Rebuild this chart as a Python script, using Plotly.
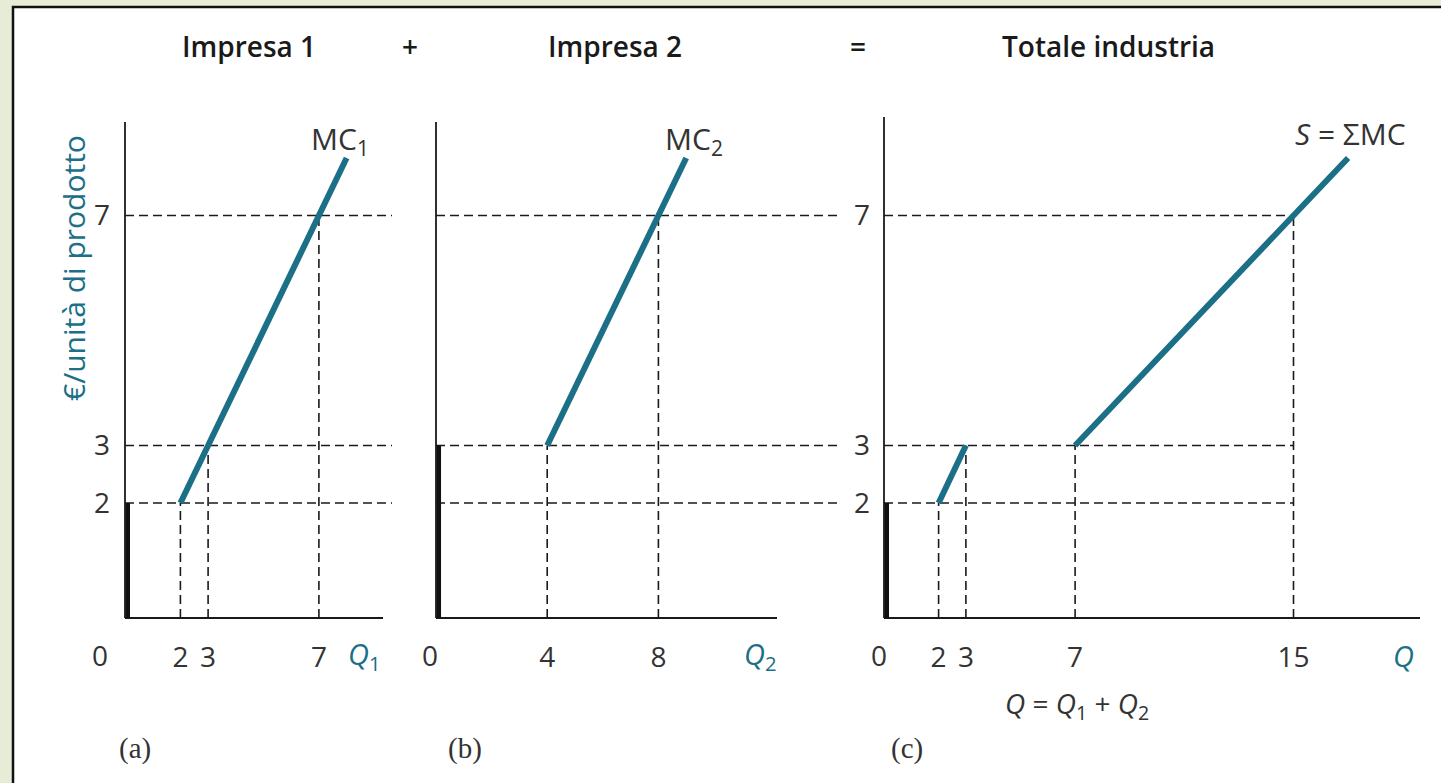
import plotly.graph_objects as go

# ---------------- data ----------------
price_ticks = [2, 3, 7]
firm1_q_ticks = [2, 3, 7]
firm2_q_ticks = [4, 8]
total_q_ticks = [2, 3, 7, 15]

mc1_q = [2, 8]
mc1_p = [2, 8]
mc2_q = [4, 9]
mc2_p = [3, 8]
s_low_q = [2, 3]
s_low_p = [2, 3]
s_high_q = [7, 17]
s_high_p = [3, 8]

shutdown_p1 = 2
shutdown_p2 = 3
shutdown_ind = 2

# quantities at each price level (guide lines)
p_guides = [2, 3, 7]
q1_guides = [2, 3, 7]
q2_guides = [None, 4, 8]
qt_guides = [(2, 2), (3, 3), (7, 3), (15, 7)]

# ---------------- layout helpers ----------------
W, H = 1441, 783
TEAL = "#1b6f86"
INK = "#1a1a1a"
TXT = "#333333"
FONT = "Open Sans"


def fx(px):
    return px / W


def fy(py):
    return 1 - py / H


# y mapping: value 0 -> 618 px, 57.5 px per unit
Y0, YU = 618, 57.5
Y_TOP, Y_BOT = 110, 636
yrange = [(Y0 - Y_BOT) / YU, (Y0 - Y_TOP) / YU]

panels = {
    "a": dict(x0=125, xu=27.7, dom=(118, 400)),
    "b": dict(x0=436, xu=27.8, dom=(430, 850)),
    "c": dict(x0=884, xu=27.3, dom=(878, 1425)),
}


def xr(p):
    d = panels[p]
    return [(d["dom"][0] - d["x0"]) / d["xu"], (d["dom"][1] - d["x0"]) / d["xu"]]


def xd(p, px):
    d = panels[p]
    return (px - d["x0"]) / d["xu"]


def yd(py):
    return (Y0 - py) / YU


fig = go.Figure()
axmap = {"a": ("x", "y"), "b": ("x2", "y2"), "c": ("x3", "y3")}

DASH = "9px,5px"


def line(p, xs, ys, color=INK, width=1.6, dash=None):
    xa, ya = axmap[p]
    fig.add_trace(go.Scatter(
        x=xs, y=ys, mode="lines", xaxis=xa, yaxis=ya,
        line=dict(color=color, width=width, dash=dash),
        hoverinfo="skip", showlegend=False))


# ---- dashed guides ----
for p in p_guides:
    line("a", [0, xd("a", 392)], [p, p], dash=DASH)
for q, p in zip(q1_guides, p_guides):
    line("a", [q, q], [0, p], dash=DASH)
for p in p_guides:
    line("b", [0, xd("b", 840)], [p, p], dash=DASH)
for q, p in zip(q2_guides, p_guides):
    if q is not None:
        line("b", [q, q], [0, p], dash=DASH)
for p in p_guides:
    line("c", [0, 15], [p, p], dash=DASH)
for q, p in qt_guides:
    line("c", [q, q], [0, p], dash=DASH)

# ---- axes lines ----
line("a", [0, 0], [0, yd(122)], width=1.8)
line("a", [0, xd("a", 383)], [0, 0], width=1.8)
line("b", [0, 0], [0, yd(122)], width=1.8)
line("b", [0, xd("b", 777)], [0, 0], width=1.8)
line("c", [0, 0], [0, yd(117)], width=1.8)
line("c", [0, xd("c", 1420)], [0, 0], width=1.8)

# ---- thick shutdown segments ----
line("a", [0.1, 0.1], [0, shutdown_p1], color="#111", width=4.5)
line("b", [0.1, 0.1], [0, shutdown_p2], color="#111", width=4.5)
line("c", [0.1, 0.1], [0, shutdown_ind], color="#111", width=4.5)

# ---- supply curves ----
line("a", mc1_q, mc1_p, color=TEAL, width=6)
line("b", mc2_q, mc2_p, color=TEAL, width=6)
line("c", s_low_q, s_low_p, color=TEAL, width=6)
line("c", s_high_q, s_high_p, color=TEAL, width=6)

TICKFONT = dict(family=FONT, size=28, color=TXT)


def xaxis(p, ticks):
    d = panels[p]
    return dict(domain=[fx(d["dom"][0]), fx(d["dom"][1])], range=xr(p),
                tickvals=ticks, ticktext=[str(t) for t in ticks],
                showgrid=False, zeroline=False, showline=False, ticks="",
                tickfont=TICKFONT, ticklabelstandoff=2, fixedrange=True)


def yaxis(anchor, show):
    return dict(domain=[fy(Y_BOT), fy(Y_TOP)], range=yrange, anchor=anchor,
                tickvals=price_ticks if show else [],
                ticktext=[str(t) for t in price_ticks] if show else [],
                showticklabels=show,
                showgrid=False, zeroline=False, showline=False, ticks="",
                tickfont=TICKFONT, ticklabelstandoff=7, fixedrange=True)


fig.update_layout(
    width=W, height=H,
    margin=dict(l=0, r=0, t=0, b=0),
    paper_bgcolor="#e7ecd6",
    plot_bgcolor="rgba(0,0,0,0)",
    showlegend=False,
    xaxis=dict(anchor="y", **xaxis("a", firm1_q_ticks)),
    xaxis2=dict(anchor="y2", **xaxis("b", firm2_q_ticks)),
    xaxis3=dict(anchor="y3", **xaxis("c", total_q_ticks)),
    yaxis=yaxis("x", True),
    yaxis2=yaxis("x2", False),
    yaxis3=yaxis("x3", True),
)

# white frame
fig.add_shape(type="rect", xref="paper", yref="paper",
              x0=fx(13), y0=-0.05, x1=1.05, y1=fy(7),
              fillcolor="white", line=dict(color="#111", width=2.5), layer="below")


def ann(px, py, text, size=24, color=INK, family=FONT, weight=None, angle=0):
    f = dict(family=family, size=size, color=color)
    if weight:
        f["weight"] = weight
    fig.add_annotation(x=fx(px), y=fy(py), xref="paper", yref="paper",
                       text=text, showarrow=False, font=f, textangle=angle,
                       xanchor="center", yanchor="middle")


# titles
ann(249, 46, "Impresa 1", size=28, weight=600)
ann(410, 46, "+", size=28, weight=600)
ann(615, 46, "Impresa 2", size=28, weight=600)
ann(858, 46, "=", size=28, weight=600)
ann(1108, 46, "Totale industria", size=28, weight=600)

# curve labels
ann(340, 140, "MC<sub>1</sub>", size=30, color=TXT)
ann(694, 140, "MC<sub>2</sub>", size=30, color=TXT)
ann(1350, 134, "<i>S</i> = ΣMC", size=30, color=TXT)

# axis names and origin labels
ann(364, 655, "<i>Q</i><sub>1</sub>", size=29, color=TEAL)
ann(760, 655, "<i>Q</i><sub>2</sub>", size=29, color=TEAL)
ann(1403, 655, "<i>Q</i>", size=29, color=TEAL)
ann(100, 655, "0", size=28, color=TXT)
ann(430, 655, "0", size=28, color=TXT)
ann(879, 655, "0", size=28, color=TXT)
ann(1077, 705, "<i>Q</i> = <i>Q</i><sub>1</sub> + <i>Q</i><sub>2</sub>", size=28, color=TXT)

# y-axis title
ann(74, 268, "€/unità di prodotto", size=30, color=TEAL, angle=-90)

# panel letters
ann(135, 748, "(a)", size=29, color=TXT, family="Liberation Serif")
ann(465, 748, "(b)", size=29, color=TXT, family="Liberation Serif")
ann(907, 748, "(c)", size=29, color=TXT, family="Liberation Serif")

fig.write_html("out.html", config={"displayModeBar": False},
               post_script="document.body.style.margin='0';")
